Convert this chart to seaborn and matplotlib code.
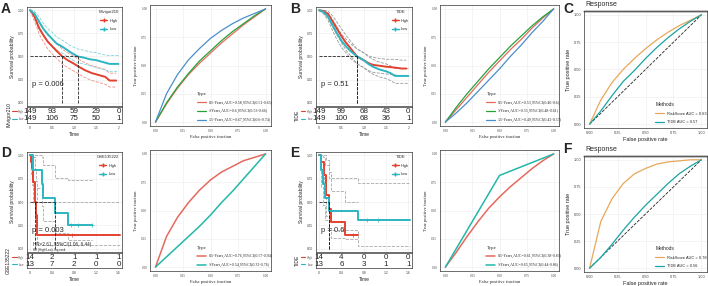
import numpy as np
import pandas as pd
import matplotlib
matplotlib.use("Agg")
import matplotlib.pyplot as plt
from matplotlib.lines import Line2D
import seaborn as sns

# ------------------------------------------------------------------ data
# Panel A  (IMvigor210 KM)
A_ticks = [0, 0.5, 1, 1.5, 2]
A_ticklabels = ["0", "0.5", "1.0", "1.5", "2"]
A_risk_high = [149, 93, 59, 29, 0]
A_risk_low = [149, 106, 75, 50, 1]
A_high_t = [0, 0.05, 0.10, 0.15, 0.20, 0.25, 0.30, 0.40, 0.50, 0.60, 0.73, 0.85, 1.00, 1.10, 1.25, 1.40, 1.55, 1.70, 1.80, 1.95]
A_high_s = [1.00, 0.97, 0.93, 0.87, 0.81, 0.77, 0.73, 0.66, 0.61, 0.56, 0.50, 0.46, 0.42, 0.39, 0.35, 0.32, 0.30, 0.28, 0.24, 0.24]
A_high_lo = [1.00, 0.94, 0.88, 0.82, 0.75, 0.70, 0.66, 0.58, 0.53, 0.48, 0.42, 0.38, 0.34, 0.31, 0.27, 0.24, 0.22, 0.20, 0.17, 0.17]
A_high_hi = [1.00, 1.00, 0.97, 0.92, 0.87, 0.83, 0.80, 0.73, 0.69, 0.64, 0.58, 0.54, 0.50, 0.47, 0.43, 0.40, 0.38, 0.36, 0.32, 0.32]
A_low_t = [0, 0.05, 0.10, 0.20, 0.30, 0.40, 0.50, 0.60, 0.75, 0.90, 1.08, 1.20, 1.35, 1.50, 1.65, 1.80, 2.00]
A_low_s = [1.00, 0.98, 0.96, 0.88, 0.80, 0.74, 0.69, 0.64, 0.60, 0.55, 0.50, 0.49, 0.47, 0.46, 0.44, 0.42, 0.42]
A_low_lo = [1.00, 0.96, 0.93, 0.83, 0.74, 0.67, 0.62, 0.57, 0.53, 0.48, 0.43, 0.42, 0.40, 0.38, 0.36, 0.34, 0.34]
A_low_hi = [1.00, 1.00, 0.99, 0.93, 0.86, 0.80, 0.76, 0.71, 0.67, 0.62, 0.58, 0.57, 0.55, 0.54, 0.52, 0.51, 0.51]

# Panel B  (TIDE KM, IMvigor210)
B_risk_high = [149, 99, 68, 43, 0]
B_risk_low = [149, 100, 68, 36, 1]
B_high_t = [0, 0.10, 0.20, 0.30, 0.40, 0.50, 0.60, 0.70, 0.85, 1.00, 1.10, 1.20, 1.35, 1.50, 1.70, 1.85, 1.95]
B_high_s = [1.00, 0.99, 0.96, 0.88, 0.80, 0.72, 0.65, 0.59, 0.50, 0.46, 0.43, 0.41, 0.40, 0.39, 0.38, 0.37, 0.37]
B_high_lo = [1.00, 0.97, 0.92, 0.82, 0.73, 0.65, 0.57, 0.51, 0.42, 0.38, 0.35, 0.33, 0.32, 0.31, 0.30, 0.29, 0.29]
B_high_hi = [1.00, 1.00, 0.99, 0.94, 0.87, 0.80, 0.73, 0.67, 0.58, 0.54, 0.51, 0.49, 0.48, 0.47, 0.47, 0.46, 0.46]
B_low_t = [0, 0.10, 0.20, 0.30, 0.40, 0.50, 0.60, 0.70, 0.85, 1.00, 1.10, 1.20, 1.35, 1.50, 1.60, 1.70, 2.00]
B_low_s = [1.00, 0.98, 0.93, 0.84, 0.75, 0.67, 0.61, 0.56, 0.50, 0.46, 0.42, 0.39, 0.36, 0.34, 0.32, 0.29, 0.29]
B_low_lo = [1.00, 0.96, 0.89, 0.78, 0.68, 0.60, 0.54, 0.48, 0.42, 0.38, 0.34, 0.31, 0.28, 0.26, 0.24, 0.21, 0.21]
B_low_hi = [1.00, 1.00, 0.97, 0.90, 0.82, 0.74, 0.69, 0.64, 0.58, 0.54, 0.50, 0.47, 0.44, 0.42, 0.40, 0.37, 0.37]

# Panel D  (GSE135222 KM)
D_ticks = [0, 0.4, 0.8, 1.2, 1.6]
D_ticklabels = ["0", "0.4", "0.8", "1.2", "1.6"]
D_risk_high = [14, 2, 1, 1, 1]
D_risk_low = [13, 7, 2, 0, 0]
D_high_t = [0, 0.02, 0.04, 0.06, 0.08, 0.10, 0.12, 1.62]
D_high_s = [1.00, 0.93, 0.86, 0.71, 0.50, 0.36, 0.143, 0.143]
D_high_lo = [1.00, 0.80, 0.68, 0.50, 0.30, 0.18, 0.04, 0.04]
D_high_hi = [1.00, 1.00, 1.00, 0.98, 0.85, 0.72, 0.50, 0.50]
D_low_t = [0, 0.06, 0.21, 0.24, 0.45, 0.69, 1.12]
D_low_s = [1.00, 0.846, 0.692, 0.538, 0.385, 0.256, 0.256]
D_low_lo = [1.00, 0.65, 0.46, 0.30, 0.17, 0.09, 0.09]
D_low_hi = [1.00, 1.00, 0.98, 0.90, 0.76, 0.74, 0.74]
D_cens_high_t = [0.75]
D_cens_high_s = [0.143]
D_cens_low_t = [0.74, 0.87, 1.12]
D_cens_low_s = [0.256, 0.256, 0.256]

# Panel E  (TIDE KM, GSE135222)
E_risk_high = [14, 4, 0, 0, 0]
E_risk_low = [13, 6, 3, 1, 1]
E_high_t = [0, 0.04, 0.09, 0.12, 0.17, 0.22, 0.46, 0.69]
E_high_s = [1.00, 0.929, 0.786, 0.571, 0.429, 0.286, 0.143, 0.143]
E_high_lo = [1.00, 0.80, 0.60, 0.35, 0.22, 0.12, 0.10, 0.10]
E_high_hi = [1.00, 1.00, 1.00, 0.95, 0.82, 0.62, 0.50, 0.50]
E_low_t = [0, 0.04, 0.07, 0.10, 0.17, 0.69, 1.62]
E_low_s = [1.00, 0.846, 0.692, 0.538, 0.40, 0.31, 0.31]
E_low_lo = [1.00, 0.66, 0.47, 0.31, 0.20, 0.03, 0.03]
E_low_hi = [1.00, 1.00, 0.98, 0.90, 0.76, 0.70, 0.70]
E_cens_high_t = [0.60]
E_cens_high_s = [0.143]
E_cens_low_t = [0.85, 1.05]
E_cens_low_s = [0.31, 0.31]

# ROC data (fpr grid shared)
fpr_grid = [0, 0.1, 0.2, 0.3, 0.4, 0.5, 0.6, 0.7, 0.8, 0.9, 1.0]
A_roc_05 = [0, 0.16, 0.30, 0.42, 0.52, 0.61, 0.70, 0.78, 0.86, 0.93, 1.0]
A_roc_1 = [0, 0.17, 0.31, 0.43, 0.54, 0.63, 0.72, 0.80, 0.87, 0.94, 1.0]
A_roc_15 = [0, 0.25, 0.42, 0.55, 0.65, 0.74, 0.81, 0.87, 0.92, 0.96, 1.0]
A_roc_labels = ["0.5-Years,AUC=0.58,95%CI(0.51-0.65)",
                "1-Years,AUC=0.6,95%CI(0.53-0.66)",
                "1.5-Years,AUC=0.67,95%CI(0.6-0.74)"]
B_roc_05 = [0, 0.11, 0.22, 0.33, 0.44, 0.54, 0.64, 0.73, 0.83, 0.92, 1.0]
B_roc_1 = [0, 0.13, 0.25, 0.36, 0.47, 0.57, 0.67, 0.76, 0.85, 0.93, 1.0]
B_roc_15 = [0, 0.08, 0.17, 0.27, 0.37, 0.47, 0.58, 0.68, 0.79, 0.89, 1.0]
B_roc_labels = ["0.5-Years,AUC=0.53,95%CI(0.46-0.6)",
                "1-Years,AUC=0.55,95%CI(0.48-0.61)",
                "1.5-Years,AUC=0.49,95%CI(0.42-0.57)"]
C_riskscore = [0, 0.22, 0.38, 0.50, 0.60, 0.69, 0.77, 0.84, 0.90, 0.95, 1.0]
C_tide = [0, 0.12, 0.26, 0.39, 0.49, 0.60, 0.70, 0.79, 0.87, 0.94, 1.0]
C_labels = ["RiskScore AUC = 0.63", "TIDE AUC = 0.57"]
D_roc_05 = [0, 0.27, 0.44, 0.57, 0.68, 0.77, 0.84, 0.89, 0.94, 0.97, 1.0]
D_roc_1 = [0, 0.09, 0.18, 0.27, 0.36, 0.46, 0.57, 0.67, 0.78, 0.89, 1.0]
D_roc_labels = ["0.5-Years,AUC=0.76,95%CI(0.57-0.94)",
                "1-Years,AUC=0.54,95%CI(0.32-0.76)"]
E_roc_05 = [0, 0.13, 0.27, 0.40, 0.52, 0.62, 0.71, 0.79, 0.87, 0.94, 1.0]
E_fpr_1 = [0, 0.5, 1.0]
E_roc_1 = [0, 0.81, 1.0]
E_roc_labels = ["0.5-Years,AUC=0.61,95%CI(0.38-0.83)",
                "1-Years,AUC=0.65,95%CI(0.44-0.86)"]
F_riskscore = [0, 0.43, 0.64, 0.78, 0.87, 0.92, 0.96, 0.98, 0.99, 1.0, 1.0]
F_tide = [0, 0.10, 0.22, 0.35, 0.47, 0.58, 0.68, 0.78, 0.87, 0.94, 1.0]
F_labels = ["RiskScore AUC = 0.78", "TIDE AUC = 0.56"]

# ------------------------------------------------------------------ style
sns.set_theme(style="white")
SANS = ['Liberation Sans', 'DejaVu Sans']
SERIF = ['Liberation Serif', 'DejaVu Serif']
plt.rcParams['font.family'] = SANS

RED = '#E2412F'
TEAL = '#2BB6C1'
ROC_RED = '#E46A5E'
ROC_GREEN = '#25A33A'
ROC_BLUE = '#4A8FCB'
ROC_TEAL = '#22B8A8'
ORANGE = '#E8A75A'
C_TEAL = '#1AA3A3'
GRID = '#ECECEC'

W, H = 708, 286
fig = plt.figure(figsize=(7.08, 2.86), dpi=100)
fig.patch.set_facecolor('white')


def ax_px(l, t, r, b):
    return fig.add_axes([l / W, 1 - b / H, (r - l) / W, (b - t) / H])


def line(ax, x, y, color, ls='-', lw=1.0, steps=False, alpha=1.0):
    df = pd.DataFrame({'x': x, 'y': y})
    kw = dict(drawstyle='steps-post') if steps else {}
    sns.lineplot(data=df, x='x', y='y', ax=ax, color=color, linestyle=ls,
                 linewidth=lw, estimator=None, sort=False, alpha=alpha,
                 legend=False, **kw)


def median_time(t, s):
    for ti, si in zip(t, s):
        if si <= 0.5:
            return ti
    return None


def style_box(ax, color='#333333', lw=0.5):
    for sp in ax.spines.values():
        sp.set_visible(True)
        sp.set_color(color)
        sp.set_linewidth(lw)


def km_panel(box, rbox, high, low, hci, lci, ticks, ticklabels, leg_title,
             ptext, risk_high, risk_low, ci_colors, steps=True, cens=None,
             extra=None):
    ax = ax_px(*box)
    xmax = ticks[-1]
    xl = (-0.035 * xmax, 1.04 * xmax)
    ax.set_xlim(*xl)
    ax.set_ylim(-0.035, 1.035)
    ax.grid(True, color=GRID, lw=0.4)
    # confidence bands
    for (t, lo, hi), c in zip([hci, lci], ci_colors):
        line(ax, t, lo, c, ls='--', lw=0.6, steps=steps)
        line(ax, t, hi, c, ls='--', lw=0.6, steps=steps)
    # curves
    line(ax, high[0], high[1], RED, lw=1.4, steps=steps)
    line(ax, low[0], low[1], TEAL, lw=1.4, steps=steps)
    if cens:
        ax.scatter(cens[0], cens[1], marker='+', s=6, color=RED, lw=0.5, zorder=5)
        ax.scatter(cens[2], cens[3], marker='+', s=6, color=TEAL, lw=0.5, zorder=5)
    # median lines
    meds = [m for m in (median_time(*high), median_time(*low)) if m is not None]
    ax.plot([0, max(meds)], [0.5, 0.5], ls='--', color='#222222', lw=0.6)
    for m in meds:
        ax.plot([m, m], [0, 0.5], ls='--', color='#222222', lw=0.6)
    ax.set_yticks([0, 0.25, 0.5, 0.75, 1.0])
    ax.set_yticklabels(['0.00', '0.25', '0.50', '0.75', '1.00'], fontsize=2.3, color='#444444')
    ax.set_xticks(ticks)
    ax.set_xticklabels([])
    ax.tick_params(length=1, width=0.4, pad=1)
    ax.set_xlabel('')
    ax.set_ylabel('Survival probability', fontsize=3.6, labelpad=2)
    style_box(ax)
    ax.text(0.02 * xmax, 0.2, ptext, fontsize=5.5, va='center', ha='left')
    if extra:
        ax.text(0.03 * xmax, 0.045, extra[0], fontsize=3.3, va='center')
        ax.text(0.03 * xmax, -0.01, extra[1], fontsize=2.2, va='center')
    handles = [Line2D([], [], color=RED, lw=1.0, marker='+', ms=2.5),
               Line2D([], [], color=TEAL, lw=1.0, marker='+', ms=2.5)]
    ax.legend(handles, ['High', 'Low'], title=leg_title, loc='upper right',
              bbox_to_anchor=(1.0, 1.0), frameon=False, fontsize=2.8,
              title_fontsize=3.0, handlelength=1.8, labelspacing=1.2,
              borderpad=0.3, handletextpad=0.6)
    # risk table
    rax = ax_px(*rbox)
    rax.set_xlim(*xl)
    rax.set_ylim(0, 2)
    for x, n in zip(ticks, risk_high):
        rax.text(x, 1.45, str(n), ha='center', va='center', fontsize=5.8)
    for x, n in zip(ticks, risk_low):
        rax.text(x, 0.5, str(n), ha='center', va='center', fontsize=5.8)
    rax.set_yticks([0.5, 1.45])
    rax.set_yticklabels(['Low', 'High'], fontsize=2.2, color='#555555')
    rax.set_xticks(ticks)
    rax.set_xticklabels(ticklabels, fontsize=2.4, color='#444444')
    rax.tick_params(length=1, width=0.4, pad=1)
    rax.set_xlabel('Time', fontsize=3.6, labelpad=1.5)
    rax.set_ylabel(leg_title, fontsize=3.6, labelpad=5)
    for yy, c in ((1.45, RED), (0.5, TEAL)):
        rax.plot([-0.16, -0.11], [yy / 2, yy / 2], transform=rax.transAxes,
                 color=c, lw=0.8, clip_on=False)
    style_box(rax)
    return ax, rax


def roc_panel(box, curves, leg_title, xlabel, ylabel, serif=True, diag=False,
              title=None, leg_anchor=(0.36, 0.0), tick_fs=2.4, lab_fs=3.3,
              leg_fs=2.9, lw=0.9):
    fam = SERIF if serif else SANS
    ax = ax_px(*box)
    ax.set_xlim(-0.05, 1.05)
    ax.set_ylim(-0.035, 1.035)
    ax.grid(True, color=GRID, lw=0.4)
    if diag:
        ax.plot([0, 1], [0, 1], ls='--', color='#222222', lw=0.6)
    handles, labels = [], []
    for x, y, c, lab in curves:
        line(ax, x, y, c, lw=lw)
        handles.append(Line2D([], [], color=c, lw=lw))
        labels.append(lab)
    ticks = [0, 0.25, 0.5, 0.75, 1.0]
    tl = ['0.00', '0.25', '0.50', '0.75', '1.00']
    ax.set_xticks(ticks)
    ax.set_yticks(ticks)
    ax.set_xticklabels(tl, fontsize=tick_fs, family=fam, color='#444444')
    ax.set_yticklabels(tl, fontsize=tick_fs, family=fam, color='#444444')
    ax.tick_params(length=1, width=0.4, pad=1)
    ax.set_xlabel(xlabel, fontsize=lab_fs, family=fam, labelpad=1.5)
    ax.set_ylabel(ylabel, fontsize=lab_fs, family=fam, labelpad=2)
    style_box(ax)
    leg = ax.legend(handles, labels, title=leg_title, loc='lower left',
                    bbox_to_anchor=leg_anchor, frameon=False,
                    prop={'family': fam, 'size': leg_fs},
                    title_fontproperties={'family': fam, 'size': leg_fs + 0.6},
                    handlelength=2.2, labelspacing=1.2, borderpad=0.4,
                    handletextpad=0.6)
    leg._legend_box.align = 'left'
    if title:
        ax.axhline(1.035, color='#BDBDBD', lw=2.0, clip_on=False)
    return ax


# ------------------------------------------------------------------ top row
km_panel((27, 7, 122, 106), (27, 107, 122, 123),
         (A_high_t, A_high_s), (A_low_t, A_low_s),
         (A_high_t, A_high_lo, A_high_hi), (A_low_t, A_low_lo, A_low_hi),
         A_ticks, A_ticklabels, 'IMvigor210', 'p = 0.006',
         A_risk_high, A_risk_low, ('#EE8F86', '#7FD3DA'), steps=False)

roc_panel((150, 5, 271, 126),
          [(fpr_grid, A_roc_05, ROC_RED, A_roc_labels[0]),
           (fpr_grid, A_roc_1, ROC_GREEN, A_roc_labels[1]),
           (fpr_grid, A_roc_15, ROC_BLUE, A_roc_labels[2])],
          'Type', 'False positive fraction', 'True positive fraction')

km_panel((316, 7, 412, 106), (316, 107, 412, 123),
         (B_high_t, B_high_s), (B_low_t, B_low_s),
         (B_high_t, B_high_lo, B_high_hi), (B_low_t, B_low_lo, B_low_hi),
         A_ticks, A_ticklabels, 'TIDE', 'p = 0.51',
         B_risk_high, B_risk_low, ('#9A9A9A', '#9A9A9A'), steps=False)

roc_panel((440, 5, 559, 126),
          [(fpr_grid, B_roc_05, ROC_RED, B_roc_labels[0]),
           (fpr_grid, B_roc_1, ROC_GREEN, B_roc_labels[1]),
           (fpr_grid, B_roc_15, ROC_BLUE, B_roc_labels[2])],
          'Type', 'False positive fraction', 'True positive fraction')

roc_panel((584, 11, 707, 128),
          [(fpr_grid, C_riskscore, ORANGE, C_labels[0]),
           (fpr_grid, C_tide, C_TEAL, C_labels[1])],
          'Methods', 'False positive rate', 'True positive rate', serif=False,
          diag=True, title='Response', leg_anchor=(0.55, 0.0), tick_fs=2.8,
          lab_fs=4.0, leg_fs=2.9)

# ------------------------------------------------------------------ bottom row
km_panel((27, 152, 122, 252), (27, 253, 122, 268),
         (D_high_t, D_high_s), (D_low_t, D_low_s),
         (D_high_t, D_high_lo, D_high_hi), (D_low_t, D_low_lo, D_low_hi),
         D_ticks, D_ticklabels, 'GSE135222', 'p = 0.003',
         D_risk_high, D_risk_low, ('#A8A8A8', '#A8A8A8'),
         cens=(D_cens_high_t, D_cens_high_s, D_cens_low_t, D_cens_low_s),
         extra=('HR=2.61, 95%CI(1.06, 6.44)', 'HR (High/Low), log-rank'))

roc_panel((150, 150, 271, 271),
          [(fpr_grid, D_roc_05, ROC_RED, D_roc_labels[0]),
           (fpr_grid, D_roc_1, ROC_TEAL, D_roc_labels[1])],
          'Type', 'False positive fraction', 'True positive fraction', lw=1.1)

km_panel((316, 152, 412, 252), (316, 253, 412, 268),
         (E_high_t, E_high_s), (E_low_t, E_low_s),
         (E_high_t, E_high_lo, E_high_hi), (E_low_t, E_low_lo, E_low_hi),
         D_ticks, D_ticklabels, 'TIDE', 'p = 0.6',
         E_risk_high, E_risk_low, ('#A8A8A8', '#A8A8A8'),
         cens=(E_cens_high_t, E_cens_high_s, E_cens_low_t, E_cens_low_s))

roc_panel((440, 150, 559, 271),
          [(fpr_grid, E_roc_05, ROC_RED, E_roc_labels[0]),
           (E_fpr_1, E_roc_1, ROC_TEAL, E_roc_labels[1])],
          'Type', 'False positive fraction', 'True positive fraction', lw=1.1)

roc_panel((584, 156, 707, 272),
          [(fpr_grid, F_riskscore, ORANGE, F_labels[0]),
           (fpr_grid, F_tide, C_TEAL, F_labels[1])],
          'Methods', 'False positive rate', 'True positive rate', serif=False,
          diag=True, title='Response', leg_anchor=(0.55, 0.0), tick_fs=2.8,
          lab_fs=4.0, leg_fs=2.9)

# titles of C / F
fig.text(585 / W, 1 - 1.5 / H, 'Response', fontsize=5.0, ha='left', va='top')
fig.text(585 / W, 1 - 146 / H, 'Response', fontsize=5.0, ha='left', va='top')

# panel letters
for lab, x, y in (('A', 1, 2), ('B', 290, 2), ('C', 563, 2),
                  ('D', 1, 146), ('E', 290, 146), ('F', 563, 142)):
    fig.text(x / W, 1 - y / H, lab, fontsize=10, fontweight='bold',
             ha='left', va='top')

fig.savefig('out.png', dpi=100, facecolor='white')
